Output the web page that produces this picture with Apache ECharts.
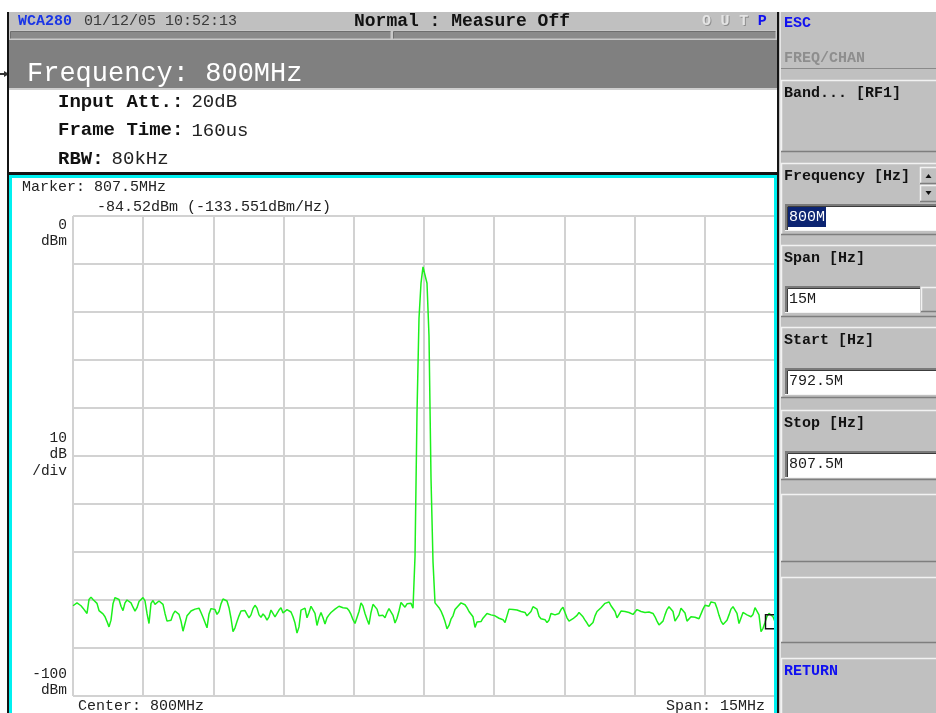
<!DOCTYPE html>
<html>
<head>
<meta charset="utf-8">
<title>WCA280 Spectrum</title>
<script src="https://cdn.jsdelivr.net/npm/echarts@6/dist/echarts.min.js"></script>
<style>
  html, body { margin: 0; padding: 0; background: #ffffff; }
  #chart { width: 936px; height: 713px; }
</style>
</head>
<body>
<div id="chart"></div>
<script>
// ---- Sweep settings ----
const START_MHZ = 792.5;
const STOP_MHZ = 807.5;
const FREQ_STEP_MHZ = 1.5;          // 10 divisions across the span
const REF_LEVEL_DBM = 0;
const BOTTOM_LEVEL_DBM = -100;
const LEVEL_STEP_DB = 10;

// ---- Marker readout ----
const MARKER_MHZ = 807.5;
const MARKER_DBM = -84.52;
const MARKER_DENSITY = -133.551;

// ---- Measured trace (dBm), one value per sweep point ----
const TRACE_DBM = [
  -81.2, -81.0, -80.6, -80.6, -81.2, -81.7, -82.0, -82.8, -79.9, -79.4,
  -79.9, -80.3, -80.7, -82.2, -82.3, -82.9, -83.5, -84.5, -85.6, -84.2,
  -80.8, -79.5, -79.5, -79.9, -81.3, -82.2, -80.6, -80.0, -80.1, -80.6,
  -81.5, -82.3, -81.6, -80.3, -79.9, -79.5, -80.2, -82.8, -84.9, -80.7,
  -80.1, -80.9, -80.9, -80.2, -80.3, -80.9, -82.8, -84.4, -84.4, -84.2,
  -83.0, -82.3, -82.0, -83.0, -84.4, -86.5, -84.9, -83.3, -82.8, -82.3,
  -82.0, -81.9, -81.6, -81.7, -82.6, -83.6, -84.7, -85.8, -82.9, -81.8,
  -81.5, -82.0, -83.0, -82.4, -80.8, -79.8, -79.7, -80.2, -81.6, -83.8,
  -86.6, -85.8, -84.5, -83.3, -82.3, -81.9, -82.2, -83.0, -83.7, -83.1,
  -81.8, -81.1, -81.7, -83.1, -83.6, -82.9, -83.4, -84.2, -83.5, -82.1,
  -82.3, -83.5, -83.2, -82.1, -81.6, -82.7, -83.1, -82.0, -81.7, -82.5,
  -83.5, -84.8, -86.9, -85.6, -82.1, -81.9, -81.7, -83.7, -82.6, -81.3,
  -81.0, -82.8, -85.3, -83.7, -82.6, -83.7, -85.0, -83.7, -83.1, -82.6,
  -82.2, -81.9, -81.8, -81.3, -81.7, -81.6, -81.6, -81.7, -82.2, -83.0,
  -84.1, -84.9, -84.9, -82.4, -80.6, -81.3, -82.8, -84.0, -85.1, -82.6,
  -80.9, -81.0, -81.9, -83.3, -83.7, -83.2, -83.7, -82.6, -81.8, -81.9,
  -83.2, -84.8, -83.8, -82.3, -80.5, -80.2, -81.5, -80.8, -81.0, -80.7,
  -81.7, -71.0, -41.0, -21.3, -14.0, -10.6, -10.6, -14.0, -25.0, -54.6,
  -72.0, -80.6, -81.0, -81.6, -82.3, -83.3, -84.5, -86.0, -85.3, -84.0,
  -83.3, -82.0, -81.5, -81.5, -80.6, -80.3, -81.0, -81.6, -82.4, -82.1,
  -83.5, -85.7, -84.6, -84.8, -84.5, -83.8, -83.4, -82.8, -82.6, -83.1,
  -83.5, -83.3, -83.6, -83.8, -83.6, -84.1, -84.7, -83.3, -81.9, -81.7,
  -82.0, -82.3, -82.1, -82.0, -82.4, -82.2, -82.6, -83.3, -83.0, -82.4,
  -81.4, -81.3, -81.9, -83.4, -83.9, -83.5, -84.1, -84.7, -84.2, -82.8,
  -82.4, -83.1, -83.5, -82.8, -82.0, -81.5, -81.8, -83.7, -84.4, -84.0,
  -83.9, -83.5, -83.2, -82.6, -82.8, -83.5, -84.2, -84.8, -85.5, -85.6,
  -84.7, -83.3, -82.4, -82.0, -81.6, -81.3, -80.7, -80.3, -80.4, -81.2,
  -81.5, -82.4, -83.7, -83.5, -82.3, -82.2, -82.4, -82.4, -82.6, -82.6,
  -83.0, -82.8, -82.0, -82.2, -82.4, -82.5, -82.6, -82.7, -82.5, -82.4,
  -82.8, -83.5, -84.4, -85.2, -85.3, -84.4, -83.1, -82.0, -81.4, -81.5,
  -82.4, -84.4, -84.7, -83.1, -81.7, -81.5, -82.7, -84.4, -84.4, -83.5,
  -83.3, -83.6, -83.8, -83.9, -83.5, -81.9, -81.1, -81.5, -81.3, -80.4,
  -80.3, -80.6, -81.7, -83.2, -84.4, -85.1, -84.8, -84.2, -83.1, -81.9,
  -81.4, -81.6, -82.8, -84.9, -84.5, -82.6, -82.4, -83.1, -83.3, -83.5,
  -83.0, -81.6, -81.5, -83.1, -86.6, -85.9, -84.7, -83.4, -82.8, -83.0,
  -83.5, MARKER_DBM
];

// Sweep point frequencies spread evenly from start to stop
const FREQ_MHZ = TRACE_DBM.map((_, i) =>
  START_MHZ + i * (STOP_MHZ - START_MHZ) / (TRACE_DBM.length - 1));

// ---- Screen texts ----
const INSTRUMENT = 'WCA280';
const TIMESTAMP = '01/12/05 10:52:13';
const MODE_TEXT = 'Normal : Measure Off';
const STATUS_FLAGS = ['O', 'U', 'T', 'P'];
const TITLE_TEXT = 'Frequency: 800MHz';
const SETTING_LABELS = ['Input Att.:', 'Frame Time:', 'RBW:'];
const SETTING_VALUES = ['20dB', '160us', '80kHz'];
const Y_TICK_LABELS = [['0', 'dBm'], ['10', 'dB', '/div'], ['-100', 'dBm']];
const CENTER_TEXT = 'Center: 800MHz';
const SPAN_TEXT = 'Span: 15MHz';
const MENU_TITLES = ['Band... [RF1]', 'Frequency [Hz]', 'Span [Hz]', 'Start [Hz]', 'Stop [Hz]', '', '', 'RETURN'];
const MENU_VALUES = [null, '800M', '15M', '792.5M', '807.5M', null, null, null];

const MONO = '"Liberation Mono", "DejaVu Sans Mono", monospace';

// ---- Drawing helpers for the instrument chrome ----
function box(x, y, w, h, fill, z) {
  return { type: 'rect', silent: true, z: z || 1, shape: { x, y, width: w, height: h }, style: { fill } };
}
function poly(points, stroke, lw, z) {
  return { type: 'polyline', silent: true, z: z || 2, shape: { points }, style: { stroke, lineWidth: lw, fill: null } };
}
function label(str, x, y, font, fill, align, z) {
  return {
    type: 'text', silent: true, z: z || 5, x, y,
    style: { text: str, font, fill, align: align || 'left', verticalAlign: 'middle' }
  };
}
function raised(x, y, w, h) {
  return [
    box(x, y, w, h, '#c0c0c0', 2),
    poly([[x + 0.5, y + h], [x + 0.5, y + 0.5], [x + w, y + 0.5]], '#f2f2f2', 1.5, 3),
    poly([[x, y + h - 0.5], [x + w - 0.5, y + h - 0.5], [x + w - 0.5, y]], '#7e7e7e', 1.5, 3)
  ];
}
function sunken(x, y, w, h) {
  return [
    box(x, y, w, h, '#ffffff', 2),
    poly([[x + 1, y + h], [x + 1, y + 1], [x + w, y + 1]], '#7a7a7a', 2, 3),
    poly([[x + 2.5, y + h - 1], [x + 2.5, y + 2.5], [x + w, y + 2.5]], '#3c3c3c', 1, 3),
    poly([[x, y + h - 0.5], [x + w - 0.5, y + h - 0.5]], '#f4f4f4', 1, 3)
  ];
}

const g = [];

// Status bar and header
g.push(box(9, 12, 768, 19, '#c0c0c0'));
g.push(box(9, 30, 768, 10, '#c8c8c8'));
g.push(box(10.5, 31.5, 380, 7, '#8a8a8a'));
g.push(poly([[10.5, 38.5], [10.5, 31.5], [390.5, 31.5]], '#6e6e6e', 1));
g.push(box(393.5, 31.5, 382, 7, '#8a8a8a'));
g.push(poly([[393.5, 38.5], [393.5, 31.5], [775.5, 31.5]], '#6e6e6e', 1));
g.push(box(9, 40, 768, 48, '#808080'));
g.push(box(9, 88, 768, 2, '#cfcfcf'));
g.push(box(7, 172, 771, 3, '#141414', 20));
g.push(box(7, 12, 2, 701, '#141414', 20));
g.push(box(777, 12, 2, 701, '#141414', 20));
g.push(poly([[0, 74], [7, 74]], '#333333', 2));
g.push({ type: 'polygon', silent: true, z: 3, shape: { points: [[4, 71], [9, 74], [4, 77]] }, style: { fill: '#333333' } });

g.push(label(INSTRUMENT, 18, 21, 'bold 15px ' + MONO, '#1a35e6'));
g.push(label(TIMESTAMP, 84, 21, '15px ' + MONO, '#3a3a3a'));
g.push(label(MODE_TEXT, 462, 21, 'bold 18px ' + MONO, '#111111', 'center'));
STATUS_FLAGS.forEach((f, i) => {
  const last = i === STATUS_FLAGS.length - 1;
  const fx = 702 + i * 18.6;
  if (last) {
    g.push(label(f, fx, 21, 'bold 15px ' + MONO, '#1010f0'));
  } else {
    // embossed, inactive flag
    g.push(label(f, fx + 1, 22, 'bold 15px ' + MONO, '#8e8e8e', 'left', 5));
    g.push(label(f, fx, 21, 'bold 15px ' + MONO, '#e4e4e4', 'left', 6));
  }
});
g.push(label(TITLE_TEXT, 27, 74, '27px ' + MONO, '#ffffff'));

// Measurement settings
SETTING_LABELS.forEach((s, i) => {
  g.push({
    type: 'text', silent: true, z: 5, x: 58, y: 102 + i * 28.6,
    style: {
      text: '{b|' + s + '}{v|' + SETTING_VALUES[i] + '}',
      verticalAlign: 'middle',
      rich: {
        b: { font: 'bold 19px ' + MONO, fill: '#111111' },
        v: { font: '19px ' + MONO, fill: '#222222', padding: [0, 0, 0, 8] }
      }
    }
  });
});

// Marker readout and axis annotations
g.push(label('Marker: ' + MARKER_MHZ.toFixed(1) + 'MHz', 22, 187, '15px ' + MONO, '#222222'));
g.push(label(MARKER_DBM.toFixed(2) + 'dBm (' + MARKER_DENSITY.toFixed(3) + 'dBm/Hz)', 97, 207, '15px ' + MONO, '#222222'));
const yLabelTop = [225, 438, 674];
Y_TICK_LABELS.forEach((lines, k) => {
  lines.forEach((t, j) => g.push(label(t, 67, yLabelTop[k] + j * 16.5, '14.5px ' + MONO, '#222222', 'right')));
});
g.push(label(CENTER_TEXT, 78, 706, '15px ' + MONO, '#222222'));
g.push(label(SPAN_TEXT, 765, 706, '15px ' + MONO, '#222222', 'right'));

// Cyan frame around the trace display
g.push({
  type: 'rect', silent: true, z: 60,
  shape: { x: 10.5, y: 176.5, width: 765, height: 545 },
  style: { fill: null, stroke: '#00f0f0', lineWidth: 3 }
});

// Soft-key menu on the right
g.push(box(779, 12, 157, 701, '#c0c0c0', 20));
g.push(poly([[780.5, 12], [780.5, 713]], '#e6e6e6', 1, 21));
g.push(label('ESC', 784, 23, 'bold 15px ' + MONO, '#1010f0', 'left', 30));
g.push(label('FREQ/CHAN', 784, 58, 'bold 15px ' + MONO, '#8e8e8e', 'left', 30));
g.push(poly([[781, 68.5], [936, 68.5]], '#8a8a8a', 1, 21));
const menuTops = [80, 163, 245, 327, 410, 494, 577, 658];
const menuHeights = [72, 72, 72, 71, 70, 68, 66, 60];
function lift(list, dz) { list.forEach(e => { e.z += dz; g.push(e); }); }
menuTops.forEach((top, i) => {
  lift(raised(781, top, 160, menuHeights[i]), 20);
  const title = MENU_TITLES[i];
  if (title) {
    const blue = title === 'RETURN';
    g.push(label(title, 784, top + 13, 'bold 15px ' + MONO, blue ? '#1010f0' : '#111111', 'left', 30));
  }
  const val = MENU_VALUES[i];
  if (val) {
    const iy = top + 41;
    const iw = i === 2 ? 135 : 155;
    lift(sunken(785, iy, iw, 27), 20);
    if (i === 1) {
      g.push(box(788, iy + 3, 38, 20, '#0c2472', 28));
      g.push(label(val, 789, iy + 13.5, '15px ' + MONO, '#ffffff', 'left', 30));
    } else {
      g.push(label(val, 789, iy + 13.5, '15px ' + MONO, '#1a1a1a', 'left', 30));
    }
    if (i === 2) lift(raised(921, iy + 1, 20, 25), 22);
  }
});
// Spin buttons beside the frequency entry
lift(raised(920, 167, 18, 17), 24);
lift(raised(920, 185, 18, 17), 24);
g.push({ type: 'polygon', silent: true, z: 30, shape: { points: [[925.5, 178], [931.5, 178], [928.5, 174]] }, style: { fill: '#111111' } });
g.push({ type: 'polygon', silent: true, z: 30, shape: { points: [[925.5, 191], [931.5, 191], [928.5, 195]] }, style: { fill: '#111111' } });

const chart = echarts.init(document.getElementById('chart'), null, { renderer: 'canvas' });
chart.setOption({
  animation: false,
  backgroundColor: '#ffffff',
  grid: { left: 73, top: 216, width: 702, height: 480, show: false },
  xAxis: {
    type: 'value', min: START_MHZ, max: STOP_MHZ, interval: FREQ_STEP_MHZ,
    axisLine: { show: false }, axisTick: { show: false }, axisLabel: { show: false },
    splitLine: { show: true, lineStyle: { color: '#d2d2d2', width: 2 } }
  },
  yAxis: {
    type: 'value', min: BOTTOM_LEVEL_DBM, max: REF_LEVEL_DBM, interval: LEVEL_STEP_DB,
    axisLine: { show: false }, axisTick: { show: false }, axisLabel: { show: false },
    splitLine: { show: true, lineStyle: { color: '#d2d2d2', width: 2 } }
  },
  series: [{
    type: 'line',
    data: FREQ_MHZ.map((f, i) => [f, TRACE_DBM[i]]),
    showSymbol: false,
    sampling: null,
    clip: true,
    lineStyle: { color: '#1cf01c', width: 1.5 },
    z: 3,
    markPoint: {
      silent: true,
      symbol: 'rect',
      symbolSize: [13, 14],
      symbolOffset: [-3, 0],
      label: { show: false },
      itemStyle: { color: 'rgba(0,0,0,0)', borderColor: '#111111', borderWidth: 1.5 },
      data: [{ coord: [MARKER_MHZ, MARKER_DBM] }]
    }
  }],
  graphic: { elements: g }
});
</script>
</body>
</html>
